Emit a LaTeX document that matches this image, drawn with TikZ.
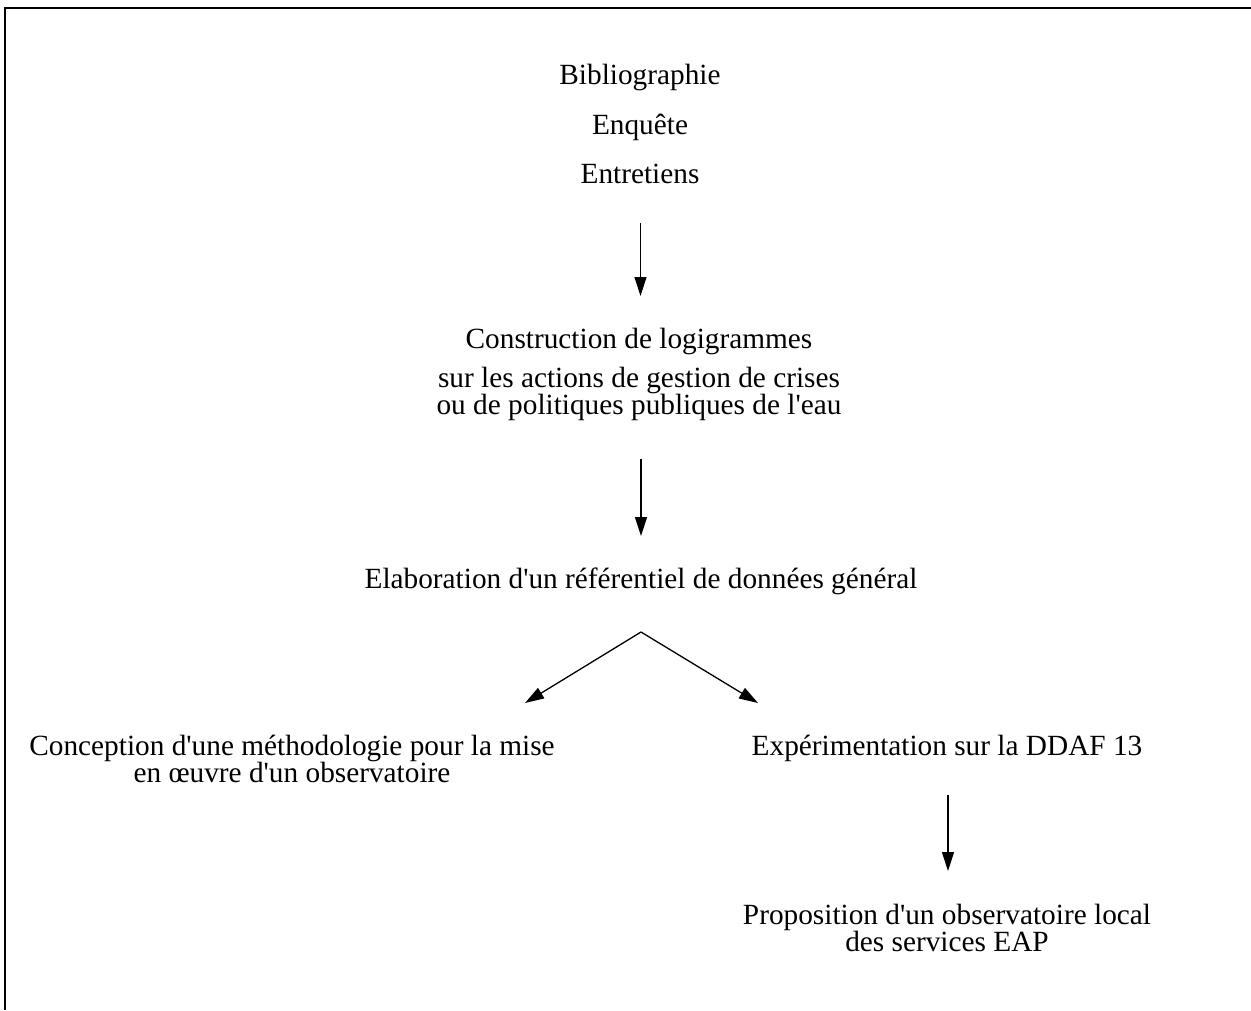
\documentclass[tikz,border=0pt]{standalone}
\usepackage{fontspec}
\setmainfont{Liberation Serif}[Ligatures=TeXOff]
\usetikzlibrary{arrows.meta}
\begin{document}
\begin{tikzpicture}[x=1pt,y=-1pt,
  lbl/.style={anchor=base, inner sep=0pt, align=center,
              font=\fontsize{29.3}{27}\selectfont},
  arr/.style={line width=1.3pt, -{Triangle[length=19pt,width=12pt]}},
  frame/.style={line width=2pt}]
\useasboundingbox (0,0) rectangle (1251,1010);

% open frame: top and left edges
\draw[frame] (1251,8) -- (5,8) -- (5,1010);

% sources (anchor=base on a two-line node sits on its last line)
\node[lbl] (biblio) at (640,84) {Bibliographie};
\node[lbl] (enquete) at (640,134) {Enquête};
\node[lbl] (entretiens) at (640,183) {Entretiens};

% logigrammes
\node[lbl] (constr) at (639,348) {Construction de logigrammes};
\node[lbl] (actions) at (639,414) {sur les actions de gestion de crises\\ou de politiques publiques de l'eau};

% referentiel
\node[lbl] (elab) at (641,588) {Elaboration d'un référentiel de données général};

% branches
\node[lbl] (concept) at (292,782) {Conception d'une méthodologie pour la mise\\en œuvre d'un observatoire};
\node[lbl] (experim) at (947,755) {Expérimentation sur la DDAF 13};
\node[lbl] (propos) at (947,951) {Proposition d'un observatoire local\\des services EAP};

% arrow ends
\coordinate (a1s) at (640.5,223);
\coordinate (a1e) at (640.5,296);
\coordinate (a2s) at (641,459);
\coordinate (a2e) at (641,536);
\coordinate (apex) at (641,632);
\coordinate (tipL) at (525,703);
\coordinate (tipR) at (758,703);
\coordinate (a4s) at (948,795);
\coordinate (a4e) at (948,871);

\draw[arr] (a1s) -- (a1e);
\draw[arr] (a2s) -- (a2e);
\draw[arr] (apex) -- (tipL);
\draw[arr] (apex) -- (tipR);
\draw[arr] (a4s) -- (a4e);
\end{tikzpicture}
\end{document}
